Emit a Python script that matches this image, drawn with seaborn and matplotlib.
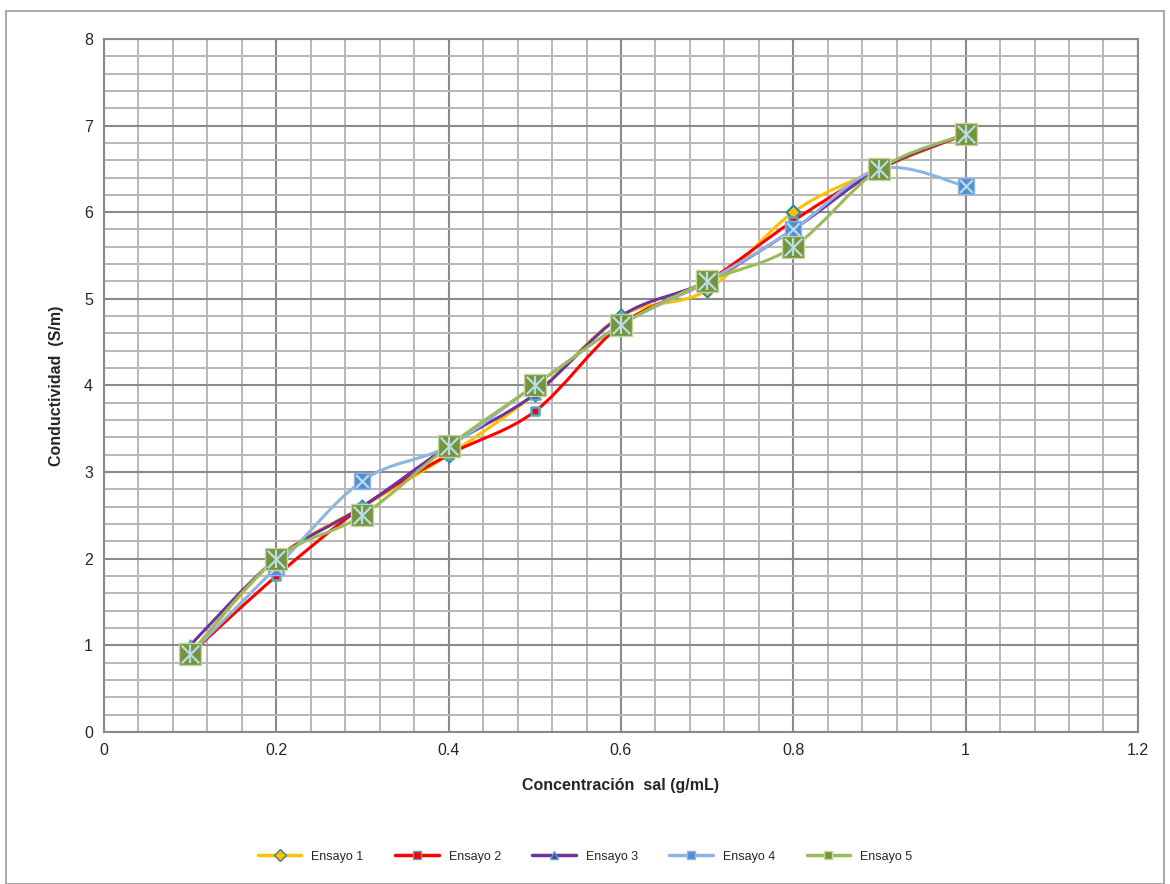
import numpy as np
import pandas as pd
import seaborn as sns
import matplotlib.pyplot as plt
from matplotlib.path import Path
from matplotlib.patches import PathPatch, Rectangle
from matplotlib.lines import Line2D
from matplotlib.ticker import MultipleLocator

# データ
conc = [0.1, 0.2, 0.3, 0.4, 0.5, 0.6, 0.7, 0.8, 0.9, 1.0]
ensayo1 = [0.9, 2.0, 2.6, 3.2, 3.9, 4.8, 5.1, 6.0, 6.5, 6.9]
ensayo2 = [0.9, 1.8, 2.6, 3.2, 3.7, 4.7, 5.2, 5.9, 6.5, 6.9]
ensayo3 = [1.0, 2.0, 2.6, 3.3, 3.9, 4.8, 5.2, 5.8, 6.5, 6.9]
ensayo4 = [0.9, 1.9, 2.9, 3.3, 4.0, 4.7, 5.2, 5.8, 6.5, 6.3]
ensayo5 = [0.9, 2.0, 2.5, 3.3, 4.0, 4.7, 5.2, 5.6, 6.5, 6.9]
names = ["Ensayo 1", "Ensayo 2", "Ensayo 3", "Ensayo 4", "Ensayo 5"]
series = [ensayo1, ensayo2, ensayo3, ensayo4, ensayo5]

df = pd.DataFrame({"conc": conc * 5,
                   "val": sum(series, []),
                   "serie": np.repeat(names, len(conc))})

sns.set_style("white")
plt.rcParams['font.family'] = ['Liberation Sans', 'DejaVu Sans']

fig = plt.figure(figsize=(11.7, 8.84), dpi=100)
ax = fig.add_axes([0.0889, 0.172, 0.8837, 0.784])

# 外枠
fig.patches.append(Rectangle((0.005, 0.0), 0.99, 0.988, transform=fig.transFigure,
                             fill=False, edgecolor="#9a9a9a", linewidth=1.2))

# 線の色・マーカー
line_colors = ["#FFC000", "#FF0000", "#7030A0", "#8DB4E2", "#9BBB59"]
styles = [
    dict(marker="D", s=50, color="#FFC000", edgecolor="#31859C", linewidth=1.5),
    dict(marker="s", s=30, color="#FF0000", edgecolor="#4BACC6", linewidth=1.8),
    dict(marker="^", s=55, color="#7030A0", edgecolor="#4BACC6", linewidth=1.5),
    dict(marker="s", s=140, color="#558ED5", edgecolor="#8DB4E2", linewidth=1),
    dict(marker="s", s=260, color="#77933C", edgecolor="#C3D69B", linewidth=1),
]


def smooth_path(xs, ys):
    # Excel風のスムージング (ベジェ曲線)
    pts = np.column_stack([xs, ys])
    verts = [pts[0]]
    codes = [Path.MOVETO]
    n = len(pts)
    for i in range(n - 1):
        p0 = pts[max(i - 1, 0)]
        p1 = pts[i]
        p2 = pts[i + 1]
        p3 = pts[min(i + 2, n - 1)]
        c1 = p1 + (p2 - p0) / 6
        c2 = p2 - (p3 - p1) / 6
        verts += [c1, c2, p2]
        codes += [Path.CURVE4] * 3
    return Path(verts, codes)


for i, (name, ys) in enumerate(zip(names, series)):
    ax.add_patch(PathPatch(smooth_path(conc, ys), fill=False,
                           edgecolor=line_colors[i], linewidth=2.2, zorder=3))

for i, name in enumerate(names):
    sub = df[df["serie"] == name]
    sns.scatterplot(data=sub, x="conc", y="val", ax=ax, zorder=4 + i,
                    legend=False, **styles[i])
    if i >= 3:
        sns.scatterplot(data=sub, x="conc", y="val", ax=ax, zorder=4 + i,
                        legend=False, marker="x", s=styles[i]["s"] * 0.6,
                        color="#B7DEE8", linewidth=1.6)
    if i == 4:
        sns.scatterplot(data=sub, x="conc", y="val", ax=ax, zorder=4 + i,
                        legend=False, marker="|", s=styles[i]["s"] * 0.6,
                        color="#B7DEE8", linewidth=1.6)

# 凡例
handles = []
for i, name in enumerate(names):
    st = styles[i]
    handles.append(Line2D([0], [0], color=line_colors[i], linewidth=2.5,
                          marker=st["marker"], markersize=6,
                          markerfacecolor=st["color"],
                          markeredgecolor=st["edgecolor"], label=name))
fig.legend(handles=handles, loc="center", bbox_to_anchor=(0.5, 0.031),
           ncol=5, frameon=False, fontsize=9, handlelength=3.5,
           columnspacing=2.5)

ax.set_xlim(0, 1.2)
ax.set_ylim(0, 8)
ax.xaxis.set_major_locator(MultipleLocator(0.2))
ax.xaxis.set_minor_locator(MultipleLocator(0.04))
ax.yaxis.set_major_locator(MultipleLocator(1))
ax.yaxis.set_minor_locator(MultipleLocator(0.2))
ax.set_xticks(np.arange(0, 1.21, 0.2))
ax.set_xticklabels(["0", "0.2", "0.4", "0.6", "0.8", "1", "1.2"])
ax.grid(which="major", color="#8a8a8a", linewidth=1.5, zorder=0)
ax.grid(which="minor", color="#b8b8b8", linewidth=1.4, zorder=0)
ax.set_axisbelow(True)
ax.tick_params(which="both", length=0, labelsize=11.5, pad=8)
for sp in ax.spines.values():
    sp.set_color("#8a8a8a")
    sp.set_linewidth(1.5)

ax.set_xlabel("Concentración  sal (g/mL)", fontsize=11.5, fontweight="bold", labelpad=14)
ax.set_ylabel("Conductividad  (S/m)", fontsize=11.5, fontweight="bold", labelpad=14)

fig.savefig("out.png", dpi=100)
